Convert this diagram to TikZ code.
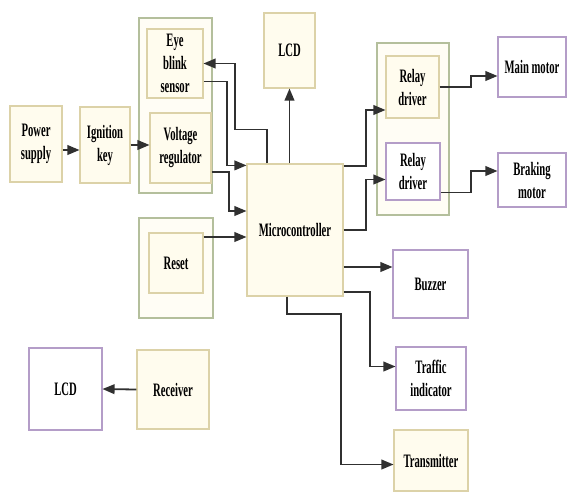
\documentclass[tikz,border=0pt]{standalone}
\usepackage{fontspec}
\setmainfont[FakeStretch=0.56]{Liberation Serif}
\usetikzlibrary{shapes,arrows,positioning}
\definecolor{creamfill}{HTML}{FFFCEE}
\definecolor{creamline}{HTML}{DCD2A8}
\definecolor{greenline}{HTML}{B4BF9C}
\definecolor{purpleline}{HTML}{B49DC8}
\definecolor{wireline}{HTML}{303030}

\begin{document}
\begin{tikzpicture}[x=1pt,y=-1pt]

  \useasboundingbox (0,0) rectangle (569,493);

  \coordinate (Power) at (36,144);
  \coordinate (Ignition) at (105,145);
  \coordinate (SensorGroup) at (175.5,105.5);
  \coordinate (Eye) at (175,63.5);
  \coordinate (Volt) at (180.5,148);
  \coordinate (LcdTop) at (289.5,50.5);
  \coordinate (Micro) at (295,230);
  \coordinate (RelayGroup) at (413,129);
  \coordinate (RelayA) at (412.5,87);
  \coordinate (RelayB) at (413,171.5);
  \coordinate (MainMotor) at (532,67);
  \coordinate (BrakeMotor) at (532,180);
  \coordinate (ResetGroup) at (176,268);
  \coordinate (Reset) at (176,263);
  \coordinate (Buzzer) at (430.5,284);
  \coordinate (Traffic) at (431,378.5);
  \coordinate (Tx) at (431,460.5);
  \coordinate (LcdBot) at (65.5,389);
  \coordinate (Recv) at (173,389.5);

  \tikzstyle{cbox}=[draw=creamline,line width=1.2pt,
                    shape=rectangle,inner sep=1pt,
                    align=center,fill=creamfill,
                    font=\bfseries\fontsize{19}{23}\selectfont];
  \tikzstyle{pbox}=[cbox,draw=purpleline,fill=white];
  \tikzstyle{gbox}=[draw=greenline,line width=1.4pt,
                    shape=rectangle,fill=creamfill!60!white];
  \tikzstyle{wire}=[->,line width=1.8pt,color=wireline,>=triangle 45];

%  groups first, boxes on top
  \node[gbox,minimum width=73pt,minimum height=175pt] (SensorGroupBox) at (SensorGroup) {};
  \node[gbox,minimum width=72pt,minimum height=172pt] (RelayGroupBox) at (RelayGroup) {};
  \node[gbox,minimum width=74pt,minimum height=100pt] (ResetGroupBox) at (ResetGroup) {};

  \node[cbox,minimum width=52pt,minimum height=76pt] (PowerBox) at (Power) {Power\\supply};
  \node[cbox,minimum width=50pt,minimum height=76pt] (IgnitionBox) at (Ignition) {Ignition\\key};
  \node[cbox,minimum width=56pt,minimum height=69pt] (EyeBox) at (Eye) {Eye\\blink\\sensor};
  \node[cbox,minimum width=61pt,minimum height=70pt] (VoltBox) at (Volt) {Voltage\\regulator};
  \node[cbox,minimum width=51pt,minimum height=75pt] (LcdTopBox) at (LcdTop) {LCD};
  \node[cbox,minimum width=96pt,minimum height=132pt] (MicroBox) at (Micro) {Microcontroller};
  \node[cbox,minimum width=53pt,minimum height=62pt] (RelayABox) at (RelayA) {Relay\\driver};
  \node[pbox,minimum width=54pt,minimum height=57pt] (RelayBBox) at (RelayB) {Relay\\driver};
  \node[pbox,minimum width=68pt,minimum height=60pt] (MainMotorBox) at (MainMotor) {Main motor};
  \node[pbox,minimum width=68pt,minimum height=54pt] (BrakeMotorBox) at (BrakeMotor) {Braking\\motor};
  \node[cbox,minimum width=54pt,minimum height=60pt] (ResetBox) at (Reset) {Reset};
  \node[pbox,minimum width=75pt,minimum height=68pt] (BuzzerBox) at (Buzzer) {Buzzer};
  \node[pbox,minimum width=70pt,minimum height=63pt] (TrafficBox) at (Traffic) {Traffic\\indicator};
  \node[cbox,minimum width=74pt,minimum height=61pt] (TxBox) at (Tx) {Transmitter};
  \node[pbox,minimum width=73pt,minimum height=82pt] (LcdBotBox) at (LcdBot) {LCD};
  \node[cbox,minimum width=72pt,minimum height=79pt] (RecvBox) at (Recv) {Receiver};

  \draw[wire] ([yshift=-6pt]PowerBox.east) -- ([yshift=-6pt]PowerBox.east -| IgnitionBox.west);
  \draw[wire] (IgnitionBox.east) -- (IgnitionBox.east -| VoltBox.west);

  \draw[wire] ([xshift=-28pt]MicroBox.north) -- ++(0,-34) -- ++(-32,0) |- (EyeBox.east);
  \draw[wire] ([yshift=-18pt]EyeBox.east) -- ++(23,0) |- ([yshift=-2pt]MicroBox.north west);
  \draw[wire] ([yshift=-24pt]VoltBox.east) -- ++(17,0) |- ([yshift=19pt]MicroBox.west);
  \draw[wire] ([yshift=26pt]ResetBox.east) -- ([yshift=26pt]ResetBox.east -| MicroBox.west);
  \draw[wire] (MicroBox.north -| LcdTopBox.south) -- (LcdTopBox.south);

  \draw[wire] ([yshift=64pt]MicroBox.east) -- ++(22,0) |- ([yshift=-23pt]RelayABox.west);
  \draw[wire] (MicroBox.east) -- ++(22,0) |- ([yshift=-8pt]RelayBBox.west);
  \draw[wire] (RelayABox.east) -- ++(31,0) |- ([yshift=-9pt]MainMotorBox.west);
  \draw[wire] ([yshift=-21pt]RelayBBox.east) -- ++(30,0) |- ([yshift=9pt]BrakeMotorBox.west);

  \draw[wire] ([yshift=-37pt]MicroBox.east) -- ([yshift=-37pt]MicroBox.east -| BuzzerBox.west);
  \draw[wire] ([yshift=-62pt]MicroBox.east) -- ++(26,0) |- ([yshift=12pt]TrafficBox.west);
  \draw[wire] ([xshift=-8pt]MicroBox.south) -- ++(0,17) -- ++(54,0) |- ([yshift=-4pt]TxBox.west);

  \draw[wire] (RecvBox.west) -- (LcdBotBox.east);
\end{tikzpicture}
\end{document}
